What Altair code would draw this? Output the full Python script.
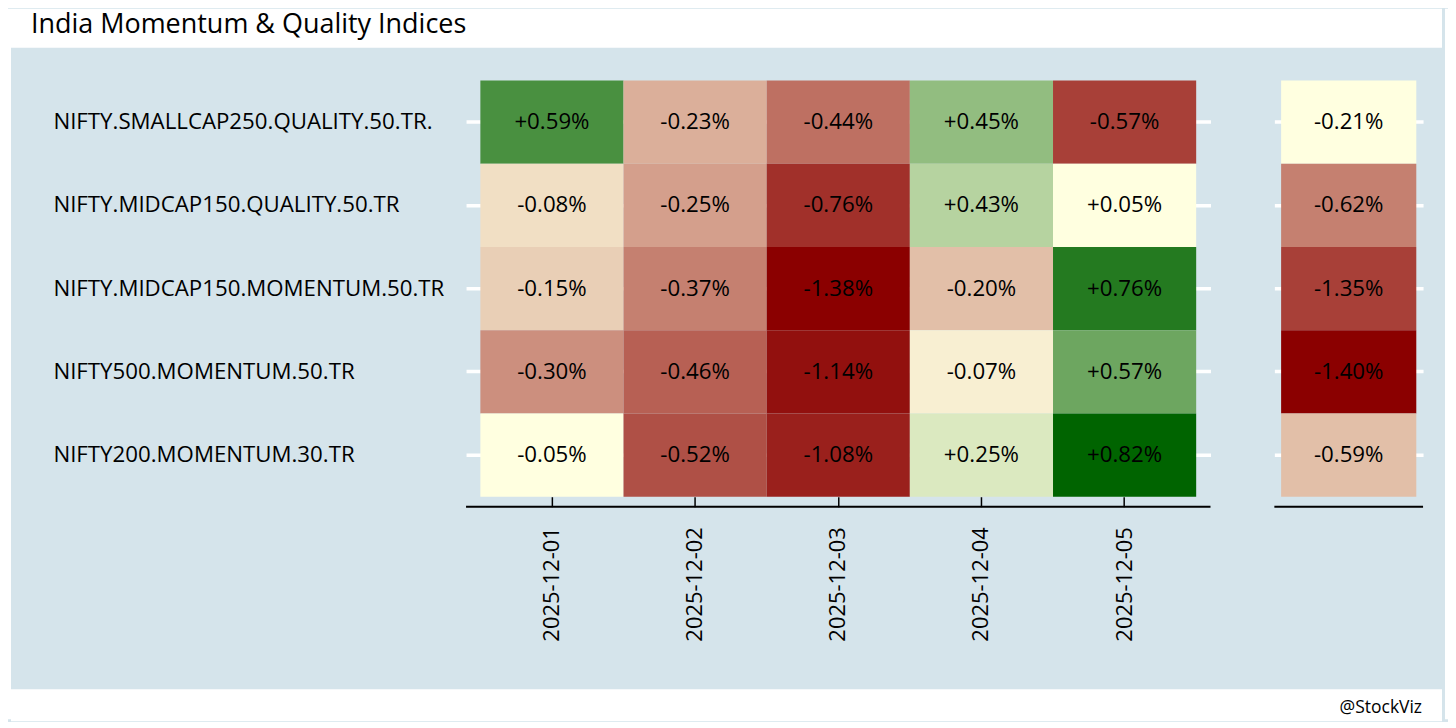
import altair as alt
import pandas as pd

# ---------------- data ----------------
title_text = "India Momentum & Quality Indices"
caption_text = "@StockViz"

indices = [
    "NIFTY.SMALLCAP250.QUALITY.50.TR.",
    "NIFTY.MIDCAP150.QUALITY.50.TR",
    "NIFTY.MIDCAP150.MOMENTUM.50.TR",
    "NIFTY500.MOMENTUM.50.TR",
    "NIFTY200.MOMENTUM.30.TR",
]
dates = ["2025-12-01", "2025-12-02", "2025-12-03", "2025-12-04", "2025-12-05"]

ret_2025_12_01 = [0.59, -0.08, -0.15, -0.30, -0.05]
ret_2025_12_02 = [-0.23, -0.25, -0.37, -0.46, -0.52]
ret_2025_12_03 = [-0.44, -0.76, -1.38, -1.14, -1.08]
ret_2025_12_04 = [0.45, 0.43, -0.20, -0.07, 0.25]
ret_2025_12_05 = [-0.57, 0.05, 0.76, 0.57, 0.82]
ret_total = [-0.21, -0.62, -1.35, -1.40, -0.59]

daily = [ret_2025_12_01, ret_2025_12_02, ret_2025_12_03, ret_2025_12_04, ret_2025_12_05]


def rank_colour_values(vals):
    """Colour position by rank within sign: negatives -1..0, positives 0..1."""
    neg = sorted(v for v in vals if v < 0)
    pos = sorted(v for v in vals if v >= 0)
    out = []
    for v in vals:
        if v < 0:
            i = neg.index(v)
            t = i / (len(neg) - 1) if len(neg) > 1 else 1.0
            out.append(t - 1.0)
        else:
            i = pos.index(v)
            t = i / (len(pos) - 1) if len(pos) > 1 else 0.0
            out.append(t)
    return out


rows = []
for d, col in zip(dates, daily):
    for idx, v in zip(indices, col):
        rows.append({"date": d, "index": idx, "ret": v})
main_df = pd.DataFrame(rows)
main_df["cv"] = rank_colour_values(list(main_df["ret"]))
main_df["label"] = [f"{v:+.2f}%" for v in main_df["ret"]]

tot_df = pd.DataFrame({"col": ["total"] * len(indices), "index": indices, "ret": ret_total})
tot_df["cv"] = rank_colour_values(list(tot_df["ret"]))
tot_df["label"] = [f"{v:+.2f}%" for v in tot_df["ret"]]

one = pd.DataFrame({"a": [0]})

# ---------------- style ----------------
BG = "#d5e4eb"
FONT = "Open Sans"
FS = 22.3
FS_X = 22
W_MAIN, H = 746, 437
W_TOT = 149
INNER_W = 1434
EDGE = 3

colour = alt.Color(
    "cv:Q",
    scale=alt.Scale(domain=[-1, 0, 1], range=["#8b0000", "#ffffe0", "#006400"], interpolate="rgb"),
    legend=None,
)

y_main = alt.Y(
    "index:N",
    sort=indices,
    scale=alt.Scale(paddingInner=0, paddingOuter=0.12),
    axis=alt.Axis(
        title=None, orient="left", grid=True, gridColor="white", gridWidth=3.5, gridOpacity=1,
        domain=False, ticks=False, tickSize=0, bandPosition=0.5, zindex=0,
        labelAlign="left", labelPadding=414, labelLimit=700, labelFontSize=FS,
        labelColor="black", labelFont=FONT,
    ),
)

x_main = alt.X(
    "date:N",
    sort=dates,
    scale=alt.Scale(paddingInner=0, paddingOuter=0.1),
    axis=alt.Axis(
        title=None, orient="bottom", grid=False, domain=False, ticks=True, tickSize=10,
        tickColor="black", tickWidth=1.5, offset=-10, labelAngle=270, labelPadding=20,
        labelFontSize=FS_X, labelColor="black", labelFont=FONT, bandPosition=0.5, zindex=0,
    ),
)

main_base = alt.Chart(main_df)
main_rect = main_base.mark_rect(strokeWidth=0).encode(x=x_main, y=y_main, color=colour)
main_text = main_base.mark_text(font=FONT, fontSize=FS, color="black").encode(
    x=alt.X("date:N", sort=dates), y=alt.Y("index:N", sort=indices), text="label:N"
)
main_axis_line = alt.Chart(one).mark_rule(color="black", strokeWidth=2).encode(
    x=alt.value(0), x2=alt.value(W_MAIN), y=alt.value(H)
)
main_chart = alt.layer(main_rect, main_text, main_axis_line).properties(width=W_MAIN, height=H)

y_tot = alt.Y(
    "index:N",
    sort=indices,
    scale=alt.Scale(paddingInner=0, paddingOuter=0.12),
    axis=alt.Axis(
        title=None, orient="left", grid=True, gridColor="white", gridWidth=3.5, gridOpacity=1,
        domain=False, ticks=False, labels=False, bandPosition=0.5, zindex=0,
    ),
)
x_tot = alt.X("col:N", scale=alt.Scale(paddingInner=0, paddingOuter=0.05), axis=None)
tot_base = alt.Chart(tot_df)
tot_rect = tot_base.mark_rect(strokeWidth=0).encode(x=x_tot, y=y_tot, color=colour)
tot_text = tot_base.mark_text(font=FONT, fontSize=FS, color="black").encode(
    x=alt.X("col:N"), y=alt.Y("index:N", sort=indices), text="label:N"
)
tot_axis_line = alt.Chart(one).mark_rule(color="black", strokeWidth=2).encode(
    x=alt.value(0), x2=alt.value(W_TOT), y=alt.value(H)
)
tot_chart = alt.layer(tot_rect, tot_text, tot_axis_line).properties(width=W_TOT, height=H)


def spacer(w, h, fill=None):
    c = alt.Chart(one).mark_text().encode(text=alt.value(""))
    if fill:
        return c.properties(width=w, height=h, view=alt.ViewBackground(fill=fill, strokeWidth=0))
    return c.properties(width=w, height=h)


body = alt.hconcat(
    spacer(42, H), main_chart, spacer(62, H), tot_chart, spacer(21, H), spacing=0
)

title_view = (
    alt.Chart(one)
    .mark_text(text=title_text, align="left", baseline="alphabetic", font=FONT, fontSize=27, color="black")
    .encode(x=alt.value(20), y=alt.value(24))
    .properties(width=INNER_W, height=39, view=alt.ViewBackground(fill="white", strokeWidth=0))
)

caption_view = (
    alt.Chart(one)
    .mark_text(text=caption_text, align="right", baseline="alphabetic", font=FONT, fontSize=17.5, color="black")
    .encode(x=alt.value(1414), y=alt.value(24))
    .properties(width=INNER_W, height=32, view=alt.ViewBackground(fill="white", strokeWidth=0))
)

inner = alt.vconcat(title_view, spacer(1, 23), body, spacer(1, 48), caption_view, spacing=0)

chart = (
    alt.hconcat(spacer(EDGE, 712, "white"), inner, spacer(EDGE, 712, "white"), spacing=0)
    .properties(background=BG, padding=0)
    .configure_view(stroke=None)
)

chart.save("out.html", embed_options={"renderer": "svg", "actions": False})
